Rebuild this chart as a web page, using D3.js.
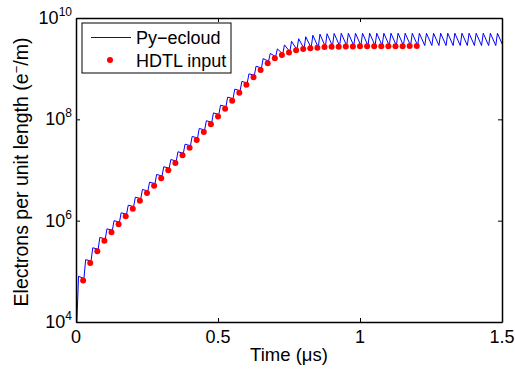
<!DOCTYPE html>
<html>
<head>
<meta charset="utf-8">
<script src="https://cdn.jsdelivr.net/npm/d3@7"></script>
<style>
  body { margin: 0; background: #fff; }
  svg { display: block; font-family: "Liberation Sans", Arial, sans-serif; }
</style>
</head>
<body>
<svg id="chart" width="515" height="374"></svg>
<script>
// HDTL input, one point per bunch (time in us, electrons per metre)
var dotTimes = [0.025, 0.05, 0.075, 0.1, 0.125, 0.15, 0.175, 0.2, 0.225, 0.25,
  0.275, 0.3, 0.325, 0.35, 0.375, 0.4, 0.425, 0.45, 0.475, 0.5,
  0.525, 0.55, 0.575, 0.6, 0.625, 0.65, 0.675, 0.7, 0.725, 0.75,
  0.775, 0.8, 0.825, 0.85, 0.875, 0.9, 0.925, 0.95, 0.975, 1.0,
  1.025, 1.05, 1.075, 1.1, 1.125, 1.15, 1.175, 1.2];
var dotValues = [6.6e4, 1.46e5, 2.5e5, 4.0e5, 5.9e5, 8.5e5, 1.22e6, 1.72e6, 2.48e6, 3.5e6,
  4.9e6, 6.9e6, 9.9e6, 1.37e7, 1.95e7, 2.75e7, 3.9e7, 5.6e7, 8.0e7, 1.14e8,
  1.62e8, 2.33e8, 3.36e8, 4.8e8, 6.75e8, 9.4e8, 1.28e9, 1.6e9, 1.86e9, 2.08e9,
  2.3e9, 2.44e9, 2.52e9, 2.59e9, 2.68e9, 2.72e9, 2.72e9, 2.74e9, 2.74e9, 2.76e9,
  2.76e9, 2.76e9, 2.78e9, 2.78e9, 2.78e9, 2.78e9, 2.8e9, 2.8e9];

// Py-ecloud: bunch passages, level just before and just after each passage
var bunchTimes = [0, 0.025, 0.05, 0.075, 0.1, 0.125, 0.15, 0.175, 0.2, 0.225, 0.25,
  0.275, 0.3, 0.325, 0.35, 0.375, 0.4, 0.425, 0.45, 0.475, 0.5,
  0.525, 0.55, 0.575, 0.6, 0.625, 0.65, 0.675, 0.7, 0.725, 0.75,
  0.775, 0.8, 0.825, 0.85, 0.875, 0.9, 0.925, 0.95, 0.975, 1.0,
  1.025, 1.05, 1.075, 1.1, 1.125, 1.15, 1.175, 1.2, 1.225, 1.25,
  1.275, 1.3, 1.325, 1.35, 1.375, 1.4, 1.425, 1.45, 1.475, 1.5];
var beforeBunch = [1e4, 7.2e4, 1.6e5, 2.72e5, 4.35e5, 6.45e5, 9.3e5, 1.34e6, 1.89e6, 2.72e6, 3.85e6,
  5.37e6, 7.6e6, 1.08e7, 1.5e7, 2.14e7, 3.0e7, 4.29e7, 6.17e7, 8.75e7, 1.25e8,
  1.78e8, 2.56e8, 3.68e8, 5.22e8, 7.4e8, 1.03e9, 1.4e9, 1.72e9, 1.95e9, 2.16e9,
  2.36e9, 2.48e9, 2.57e9, 2.63e9, 2.72e9, 2.8e9, 2.82e9, 2.84e9, 2.84e9, 2.85e9,
  2.85e9, 2.86e9, 2.86e9, 2.86e9, 2.86e9, 2.86e9, 2.86e9, 2.86e9, 2.86e9, 2.86e9,
  2.86e9, 2.86e9, 2.86e9, 2.86e9, 2.86e9, 2.86e9, 2.86e9, 2.86e9, 2.86e9, 2.86e9];
var afterBunch = [8.0e4, 1.7e5, 2.92e5, 4.68e5, 6.9e5, 1.0e6, 1.43e6, 2.02e6, 2.91e6, 4.13e6, 5.75e6,
  8.17e6, 1.16e7, 1.61e7, 2.29e7, 3.24e7, 4.59e7, 6.6e7, 9.38e7, 1.34e8, 1.9e8,
  2.74e8, 3.94e8, 5.6e8, 7.9e8, 1.12e9, 1.58e9, 2.0e9, 2.45e9, 2.95e9, 3.47e9,
  3.9e9, 4.27e9, 4.57e9, 4.79e9, 4.9e9, 4.95e9, 5.0e9, 5.0e9, 5.0e9, 5.0e9,
  5.0e9, 5.0e9, 5.0e9, 5.0e9, 5.0e9, 5.0e9, 5.0e9, 5.0e9, 5.0e9, 5.0e9,
  5.0e9, 5.0e9, 5.0e9, 5.0e9, 5.0e9, 5.0e9, 5.0e9, 5.0e9, 5.0e9, 5.0e9];

var xTicks = [0, 0.5, 1, 1.5];
var xTickLabels = ["0", "0.5", "1", "1.5"];
var yTicks = [1e4, 1e6, 1e8, 1e10];
var yTickExponents = ["4", "6", "8", "10"];

var margin = {top: 18, right: 13, bottom: 52, left: 76};
var svg = d3.select("#chart"),
    width = +svg.attr("width") - margin.left - margin.right,
    height = +svg.attr("height") - margin.top - margin.bottom,
    g = svg.append("g").attr("transform", "translate(" + margin.left + "," + margin.top + ")");

var x = d3.scaleLinear().domain([0, 1.5]).range([0, width]);
var y = d3.scaleLog().domain([1e4, 1e10]).range([height, 0]);

g.append("clipPath").attr("id", "clip")
  .append("rect").attr("width", width).attr("height", height);

// sawtooth: rise just after each bunch, then slow decay to the next one
var linePts = [];
bunchTimes.forEach(function (t, i) {
  linePts.push([t + 0.003, beforeBunch[i]]);
  if (i < afterBunch.length) linePts.push([t + 0.009, afterBunch[i]]);
});

var line = d3.line()
  .x(function (d) { return x(d[0]); })
  .y(function (d) { return y(d[1]); });

g.append("path")
  .datum(linePts)
  .attr("clip-path", "url(#clip)")
  .attr("fill", "none")
  .attr("stroke", "#0000ff")
  .attr("stroke-width", 1)
  .attr("d", line);

g.selectAll("circle.dot")
  .data(dotTimes)
  .enter().append("circle")
  .attr("class", "dot")
  .attr("cx", function (d) { return x(d); })
  .attr("cy", function (d, i) { return y(dotValues[i]); })
  .attr("r", 3)
  .attr("fill", "#ff0000");

// axes with inward ticks on all four sides
function styleAxis(sel) {
  sel.selectAll("path").attr("stroke", "#000").attr("stroke-width", 1.5);
  sel.selectAll("line").attr("stroke", "#000").attr("stroke-width", 1);
}
g.append("g").attr("transform", "translate(0," + height + ")")
  .call(d3.axisBottom(x).tickValues(xTicks).tickSize(-4).tickSizeOuter(0).tickFormat(""))
  .call(styleAxis);
g.append("g")
  .call(d3.axisTop(x).tickValues(xTicks).tickSize(-4).tickSizeOuter(0).tickFormat(""))
  .call(styleAxis);
g.append("g")
  .call(d3.axisLeft(y).tickValues(yTicks).tickSize(-4).tickSizeOuter(0).tickFormat(""))
  .call(styleAxis);
g.append("g").attr("transform", "translate(" + width + ",0)")
  .call(d3.axisRight(y).tickValues(yTicks).tickSize(-4).tickSizeOuter(0).tickFormat(""))
  .call(styleAxis);

// tick labels
g.selectAll("text.xt")
  .data(xTicks)
  .enter().append("text")
  .attr("class", "xt")
  .attr("x", function (d) { return x(d); })
  .attr("y", height + 21)
  .attr("text-anchor", "middle")
  .attr("font-size", 18)
  .text(function (d, i) { return xTickLabels[i]; });

var yt = g.selectAll("text.yt")
  .data(yTicks)
  .enter().append("text")
  .attr("class", "yt")
  .attr("x", -4)
  .attr("y", function (d) { return y(d) + 6; })
  .attr("text-anchor", "end")
  .attr("font-size", 18);
yt.append("tspan").text("10");
yt.append("tspan").attr("dy", -8).attr("font-size", 12)
  .text(function (d, i) { return yTickExponents[i]; });

// axis labels
svg.append("text")
  .attr("x", margin.left + width / 2)
  .attr("y", 361)
  .attr("text-anchor", "middle")
  .attr("font-size", 18.5)
  .text("Time (\u03bcs)");

var ylab = svg.append("text")
  .attr("transform", "translate(28," + (margin.top + height / 2 + 2) + ") rotate(-90)")
  .attr("text-anchor", "middle")
  .attr("font-size", 19.5);
ylab.append("tspan").text("Electrons per unit length (e");
ylab.append("tspan").attr("dy", -7.5).attr("font-size", 13).text("\u2212");
ylab.append("tspan").attr("dy", 7.5).text("/m)");

// legend
var leg = svg.append("g").attr("transform", "translate(82,23)");
leg.append("rect")
  .attr("width", 149).attr("height", 50)
  .attr("fill", "#fff").attr("stroke", "#000").attr("stroke-width", 1);
leg.append("line")
  .attr("x1", 9).attr("x2", 49).attr("y1", 14.5).attr("y2", 14.5)
  .attr("stroke", "#0000ff").attr("stroke-width", 1);
leg.append("circle")
  .attr("cx", 28).attr("cy", 37).attr("r", 3).attr("fill", "#ff0000");
leg.append("text").attr("x", 54).attr("y", 21).attr("font-size", 18).text("Py\u2212ecloud");
leg.append("text").attr("x", 54).attr("y", 43.5).attr("font-size", 18).text("HDTL input");
</script>
</body>
</html>
